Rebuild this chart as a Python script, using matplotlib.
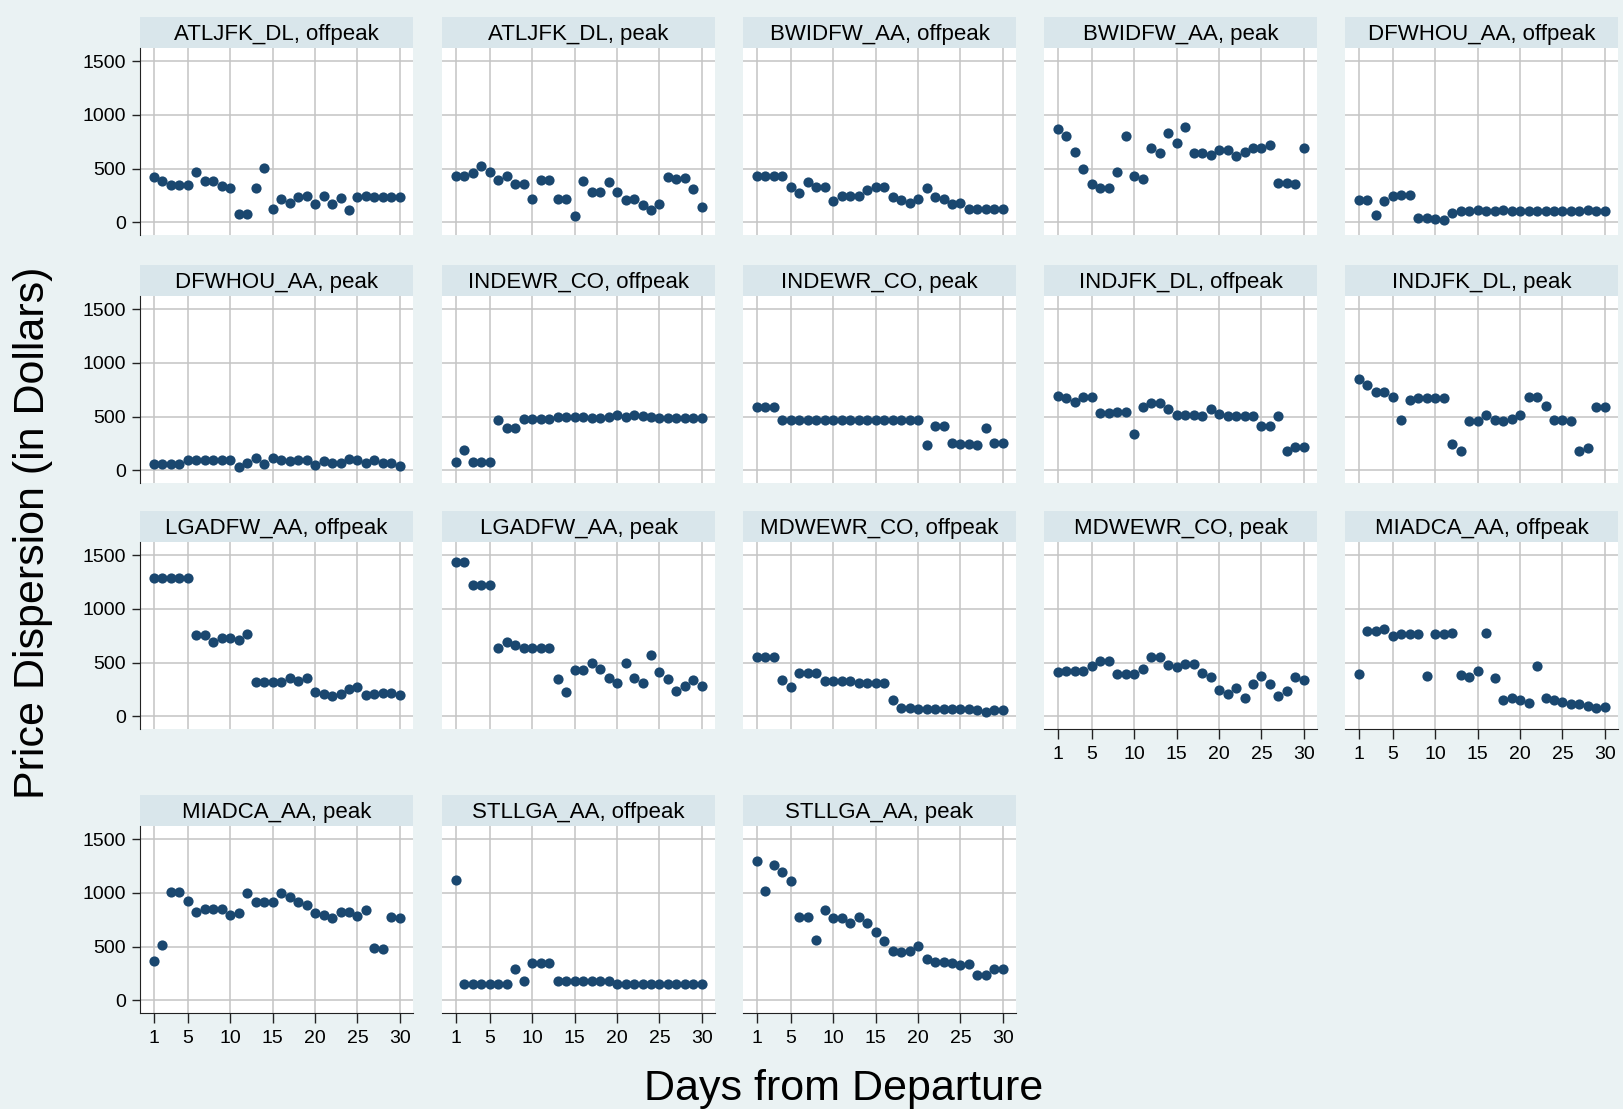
import matplotlib
matplotlib.use("Agg")
import matplotlib.pyplot as plt

plt.rcParams['font.family'] = ['Liberation Sans', 'DejaVu Sans']

days = list(range(1, 31))
x_ticks = [1, 5, 10, 15, 20, 25, 30]
y_ticks = [0, 500, 1000, 1500]

atljfk_dl_offpeak = [422, 381, 350, 350, 350, 469, 388, 388, 334, 322, 78, 78, 322, 503, 119,
                     216, 178, 234, 247, 166, 241, 166, 225, 116, 231, 244, 234, 234, 234, 234]
atljfk_dl_peak = [428, 428, 456, 525, 466, 397, 434, 359, 359, 216, 391, 391, 216, 216, 56,
                  381, 281, 281, 372, 281, 206, 213, 159, 116, 169, 422, 400, 413, 309, 144]
bwidfw_aa_offpeak = [431, 431, 431, 431, 331, 272, 372, 328, 328, 200, 247, 247, 247, 303, 328,
                     328, 234, 203, 178, 216, 319, 234, 216, 172, 178, 122, 122, 122, 122, 122]
bwidfw_aa_peak = [869, 803, 659, 494, 359, 319, 319, 466, 806, 431, 400, 691, 647, 834, 738,
                  891, 641, 641, 628, 675, 675, 616, 656, 694, 694, 722, 369, 369, 353, 691]
dfwhou_aa_offpeak = [206, 206, 69, 197, 244, 250, 250, 41, 41, 25, 22, 81, 103, 103, 113,
                     100, 103, 109, 103, 100, 100, 100, 100, 100, 100, 100, 100, 109, 100, 100]
dfwhou_aa_peak = [56, 56, 56, 56, 93, 93, 93, 93, 93, 93, 31, 69, 109, 56, 109,
                  93, 84, 93, 93, 47, 87, 69, 69, 100, 90, 62, 93, 69, 69, 40]
indewr_co_offpeak = [75, 184, 75, 75, 75, 470, 392, 392, 480, 480, 480, 480, 498, 498, 498,
                     498, 489, 489, 498, 511, 498, 511, 505, 492, 486, 486, 486, 486, 486, 486]
indewr_co_peak = [587, 587, 587, 471, 471, 471, 471, 471, 471, 471, 471, 471, 471, 471, 471,
                  471, 471, 471, 471, 471, 231, 409, 409, 256, 243, 243, 231, 390, 253, 253]
indjfk_dl_offpeak = [696, 674, 636, 680, 680, 534, 534, 540, 540, 337, 587, 627, 627, 571, 512,
                     512, 512, 502, 571, 524, 509, 509, 509, 509, 409, 409, 502, 175, 212, 212]
indjfk_dl_peak = [846, 799, 727, 727, 680, 465, 658, 674, 674, 674, 674, 243, 178, 455, 455,
                  515, 471, 455, 477, 518, 683, 683, 602, 465, 465, 455, 175, 203, 590, 590]
lgadfw_aa_offpeak = [1285, 1285, 1285, 1285, 1285, 756, 756, 691, 731, 731, 706, 762, 321, 321, 321,
                     321, 358, 324, 358, 224, 202, 190, 208, 249, 271, 193, 202, 215, 215, 193]
lgadfw_aa_peak = [1441, 1441, 1220, 1220, 1220, 638, 688, 660, 638, 638, 638, 638, 349, 224, 426,
                  426, 495, 436, 358, 311, 495, 358, 311, 573, 408, 349, 230, 277, 333, 280]
mdwewr_co_offpeak = [554, 554, 554, 336, 271, 401, 401, 401, 327, 327, 327, 327, 308, 308, 308,
                     308, 146, 78, 78, 65, 65, 65, 65, 65, 65, 65, 53, 40, 59, 59]
mdwewr_co_peak = [414, 423, 423, 423, 464, 517, 517, 389, 389, 389, 436, 554, 554, 476, 461,
                  482, 482, 401, 367, 240, 202, 264, 165, 302, 373, 302, 187, 233, 367, 333]
miadca_aa_offpeak = [389, 793, 793, 815, 750, 765, 765, 765, 373, 765, 765, 778, 380, 367, 420,
                     775, 352, 146, 165, 152, 124, 467, 171, 146, 131, 115, 115, 93, 78, 87]
miadca_aa_peak = [363, 519, 1006, 1006, 922, 826, 848, 848, 848, 798, 814, 1000, 913, 913, 913,
                  1000, 960, 916, 885, 814, 792, 767, 823, 823, 786, 839, 488, 481, 776, 770]
stllga_aa_offpeak = [1124, 152, 152, 152, 152, 152, 152, 292, 183, 342, 342, 342, 183, 183, 183,
                     183, 183, 183, 183, 152, 152, 152, 152, 152, 152, 152, 152, 152, 152, 152]
stllga_aa_peak = [1295, 1022, 1258, 1193, 1109, 777, 777, 565, 839, 767, 767, 717, 773, 721, 634,
                  556, 463, 450, 460, 509, 385, 354, 354, 342, 326, 335, 233, 233, 289, 289]

titles = ["ATLJFK_DL, offpeak", "ATLJFK_DL, peak", "BWIDFW_AA, offpeak", "BWIDFW_AA, peak",
          "DFWHOU_AA, offpeak", "DFWHOU_AA, peak", "INDEWR_CO, offpeak", "INDEWR_CO, peak",
          "INDJFK_DL, offpeak", "INDJFK_DL, peak", "LGADFW_AA, offpeak", "LGADFW_AA, peak",
          "MDWEWR_CO, offpeak", "MDWEWR_CO, peak", "MIADCA_AA, offpeak", "MIADCA_AA, peak",
          "STLLGA_AA, offpeak", "STLLGA_AA, peak"]
series = [atljfk_dl_offpeak, atljfk_dl_peak, bwidfw_aa_offpeak, bwidfw_aa_peak,
          dfwhou_aa_offpeak, dfwhou_aa_peak, indewr_co_offpeak, indewr_co_peak,
          indjfk_dl_offpeak, indjfk_dl_peak, lgadfw_aa_offpeak, lgadfw_aa_peak,
          mdwewr_co_offpeak, mdwewr_co_peak, miadca_aa_offpeak, miadca_aa_peak,
          stllga_aa_offpeak, stllga_aa_peak]

W, H = 1623, 1109
BG = '#EAF2F3'
STRIP = '#D9E6EB'
NAVY = '#1A476F'
GRID = '#C4C4C4'

fig = plt.figure(figsize=(W / 100, H / 100), dpi=100, facecolor=BG)

col_left = [140, 442, 743, 1044, 1345]
row_top = [17, 265, 511, 795]
pw, strip_h, plot_h = 273, 31, 187
bottom_panels = {13, 14, 15, 16, 17}


def frac(x, y, w, h):
    return [x / W, 1 - (y + h) / H, w / W, h / H]


for i, (title, vals) in enumerate(zip(titles, series)):
    r, c = divmod(i, 5)
    x0 = col_left[c]
    y0 = row_top[r]
    # strip
    sax = fig.add_axes(frac(x0, y0, pw, strip_h))
    sax.set_facecolor(STRIP)
    sax.set_xticks([]); sax.set_yticks([])
    for s in sax.spines.values():
        s.set_visible(False)
    sax.text(0.5, 0.45, title, ha='center', va='center', fontsize=16, transform=sax.transAxes)
    # plot
    ax = fig.add_axes(frac(x0, y0 + strip_h, pw, plot_h))
    ax.set_facecolor('white')
    ax.scatter(days, vals, s=54, color=NAVY, linewidths=0, zorder=3)
    ax.set_xlim(-0.65, 31.55)
    ax.set_ylim(-120, 1625)
    ax.set_xticks(x_ticks)
    ax.set_yticks(y_ticks)
    ax.grid(True, color=GRID, lw=1.1, zorder=0)
    ax.set_axisbelow(True)
    for s in ['top', 'right']:
        ax.spines[s].set_visible(False)
    show_left = (c == 0)
    show_bottom = (i in bottom_panels)
    ax.spines['left'].set_visible(show_left)
    ax.spines['bottom'].set_visible(show_bottom)
    ax.spines['left'].set_color('#222222')
    ax.spines['bottom'].set_color('#222222')
    ax.tick_params(axis='y', left=show_left, labelleft=show_left, length=6, width=1,
                   color='#222222', labelsize=14, pad=4)
    ax.tick_params(axis='x', bottom=show_bottom, labelbottom=show_bottom, length=7, width=1,
                   color='#222222', labelsize=14, pad=5)

fig.text(844 / W, 1 - 1089 / H, "Days from Departure", ha='center', va='center', fontsize=31)
fig.text(33 / W, 1 - 533 / H, "Price Dispersion (in Dollars)", ha='center', va='center',
         rotation=90, fontsize=31)

fig.savefig("out.png", dpi=100, facecolor=BG)
